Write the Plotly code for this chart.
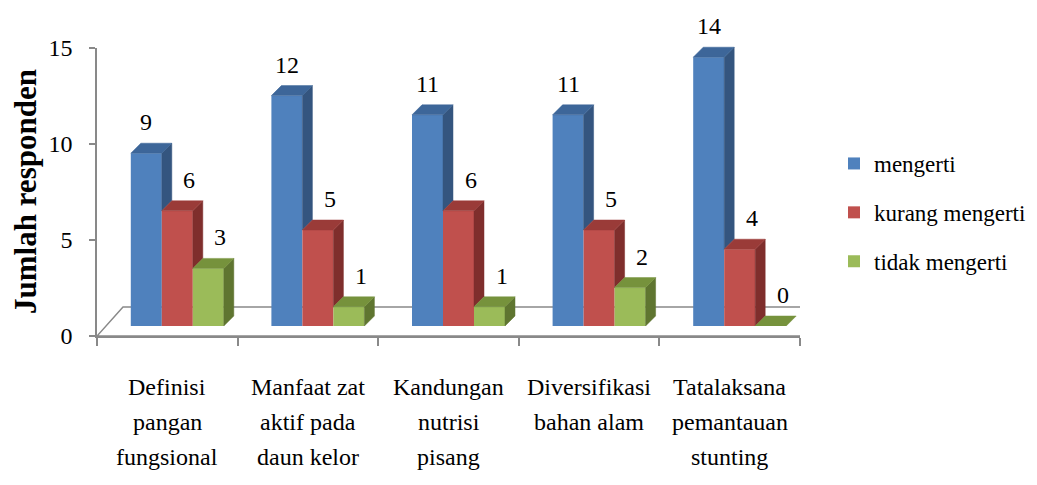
import plotly.graph_objects as go

# ---------------- data ----------------
categories = [
    ["Definisi", "pangan", "fungsional"],
    ["Manfaat zat", "aktif pada", "daun kelor"],
    ["Kandungan", "nutrisi", "pisang"],
    ["Diversifikasi", "bahan alam"],
    ["Tatalaksana", "pemantauan", "stunting"],
]
series_names = ["mengerti", "kurang mengerti", "tidak mengerti"]
mengerti = [9, 12, 11, 11, 14]
kurang_mengerti = [6, 5, 6, 5, 4]
tidak_mengerti = [3, 1, 1, 2, 0]
y_ticks = [0, 5, 10, 15]

series_values = [mengerti, kurang_mengerti, tidak_mengerti]

# ---------------- style ----------------
W, H = 1037, 485
PAGE_OFF = 8   # default body margin of the html page
FONT = "Liberation Serif, Times New Roman, serif"
front_cols = ["#4F81BD", "#C0504D", "#9BBB59"]
top_cols = ["#3D6699", "#9A3B38", "#76923C"]
side_cols = ["#34557F", "#7F2E2C", "#5F7530"]
label_shift = [0, 12, 12]
axis_col = "#898989"

def px_x(p):
    return (p - PAGE_OFF) / W

def px_y(p):
    return (H - (p - PAGE_OFF)) / H

# axis geometry (pixels, in screen coordinates)
AX_L, AX_R, AX_B, AX_T = 97, 800, 336, 48
DEPTH = 10          # bar plane offset
n = len(categories)
ymax = 15
unit_x = (AX_R - AX_L) / n
unit_y = (AX_B - AX_T) / ymax
dx = DEPTH / unit_x
dy = DEPTH / unit_y
floor_dx = 26 / unit_x
floor_dy = 29 / unit_y

w = 0.2205
offsets = [-1.5 * w + j * w for j in range(3)]

fig = go.Figure()

# front faces (bars)
for j, vals in enumerate(series_values):
    fig.add_trace(go.Bar(
        x=list(range(n)), y=vals, width=w, offset=offsets[j],
        marker=dict(color=front_cols[j], line=dict(width=0)),
        name=series_names[j], legendgroup=series_names[j],
        xaxis="x2", yaxis="y2", hoverinfo="skip",
    ))

# side and top faces
for j, vals in enumerate(series_values):
    nxt = series_values[j + 1] if j + 1 < len(series_values) else [0] * n
    sx, sy, tx, ty = [], [], [], []
    for i in range(n):
        xl = i + offsets[j]
        xr = xl + w
        v = vals[i]
        lo = min(nxt[i], v)
        if v > lo:
            sx += [xr, xr + dx, xr + dx, xr, xr, None]
            sy += [lo, lo + dy, v + dy, v, lo, None]
        tx += [xl, xl + dx, xr + dx, xr, xl, None]
        ty += [v, v + dy, v + dy, v, v, None]
    fig.add_trace(go.Scatter(
        x=sx, y=sy, mode="lines", fill="toself", fillcolor=side_cols[j],
        line=dict(width=0.5, color=side_cols[j]), showlegend=False,
        xaxis="x2", yaxis="y2", hoverinfo="skip",
    ))
    fig.add_trace(go.Scatter(
        x=tx, y=ty, mode="lines", fill="toself", fillcolor=top_cols[j],
        line=dict(width=0.5, color=top_cols[j]), showlegend=False,
        xaxis="x2", yaxis="y2", hoverinfo="skip",
    ))

# data labels
annotations = []
for j, vals in enumerate(series_values):
    for i, v in enumerate(vals):
        annotations.append(dict(
            x=i + offsets[j] + w / 2, y=v, xref="x2", yref="y2",
            text=str(v), showarrow=False, xanchor="center", yanchor="middle",
            xshift=label_shift[j], yshift=31,
            font=dict(family=FONT, size=24, color="black"),
        ))

# category labels (one annotation per line for the line spacing)
for i, lines in enumerate(categories):
    for k, line in enumerate(lines):
        annotations.append(dict(
            x=i, y=px_y(387 + 35 * k), xref="x", yref="paper",
            text=line, showarrow=False, xanchor="center", yanchor="middle",
            font=dict(family=FONT, size=24, color="black"),
        ))

annotations.append(dict(
    x=px_x(25), y=px_y(192), xref="paper", yref="paper",
    text="<b>Jumlah responden</b>", textangle=-90, showarrow=False,
    xanchor="center", yanchor="middle",
    font=dict(family=FONT, size=31, color="black"),
))

# floor
x0, x1 = -0.5, n - 0.5
floor_path = (f"M {x0},0 L {x1},0 L {x1 + floor_dx},{floor_dy} "
              f"L {x0 + floor_dx},{floor_dy} Z")
shapes = [dict(type="path", path=floor_path, xref="x", yref="y",
               line=dict(color=axis_col, width=1.5), fillcolor="white",
               layer="below")]

fig.update_layout(
    template="none",
    width=W, height=H, autosize=False,
    margin=dict(l=0, r=0, t=0, b=0, autoexpand=False),
    paper_bgcolor="white", plot_bgcolor="rgba(0,0,0,0)",
    showlegend=True,
    barmode="overlay",
    font=dict(family=FONT, size=23, color="black"),
    xaxis=dict(
        domain=[px_x(AX_L), px_x(AX_R)], range=[x0, x1], anchor="y",
        automargin=False,
        showline=True, linecolor=axis_col, linewidth=1.5,
        tickmode="array", tickvals=[k - 0.5 for k in range(n + 1)],
        ticktext=[""] * (n + 1), ticks="outside", ticklen=8,
        tickcolor=axis_col, tickwidth=1.5,
        showgrid=False, zeroline=False, fixedrange=True,
    ),
    yaxis=dict(
        domain=[px_y(AX_B), px_y(AX_T)], range=[0, ymax], anchor="x",
        automargin=False,
        showline=True, linecolor=axis_col, linewidth=1.5,
        tickmode="array", tickvals=y_ticks, ticks="outside", ticklen=6,
        tickcolor=axis_col, tickwidth=1.5, showgrid=False, zeroline=False,
        ticklabelstandoff=12,
        tickfont=dict(family=FONT, size=24, color="black"),
    ),
    xaxis2=dict(
        domain=[px_x(AX_L + DEPTH), px_x(AX_R + DEPTH)], range=[x0, x1],
        anchor="y2", visible=False, automargin=False,
    ),
    yaxis2=dict(
        domain=[px_y(AX_B - DEPTH), px_y(AX_T - DEPTH)], range=[0, ymax],
        anchor="x2", visible=False, automargin=False,
    ),
    legend=dict(
        x=px_x(834), y=px_y(142), xanchor="left", yanchor="top",
        bgcolor="rgba(0,0,0,0)", traceorder="grouped", tracegroupgap=16,
        font=dict(family=FONT, size=23, color="black"),
    ),
    annotations=annotations,
    shapes=shapes,
)

fig.write_html("out.html")
